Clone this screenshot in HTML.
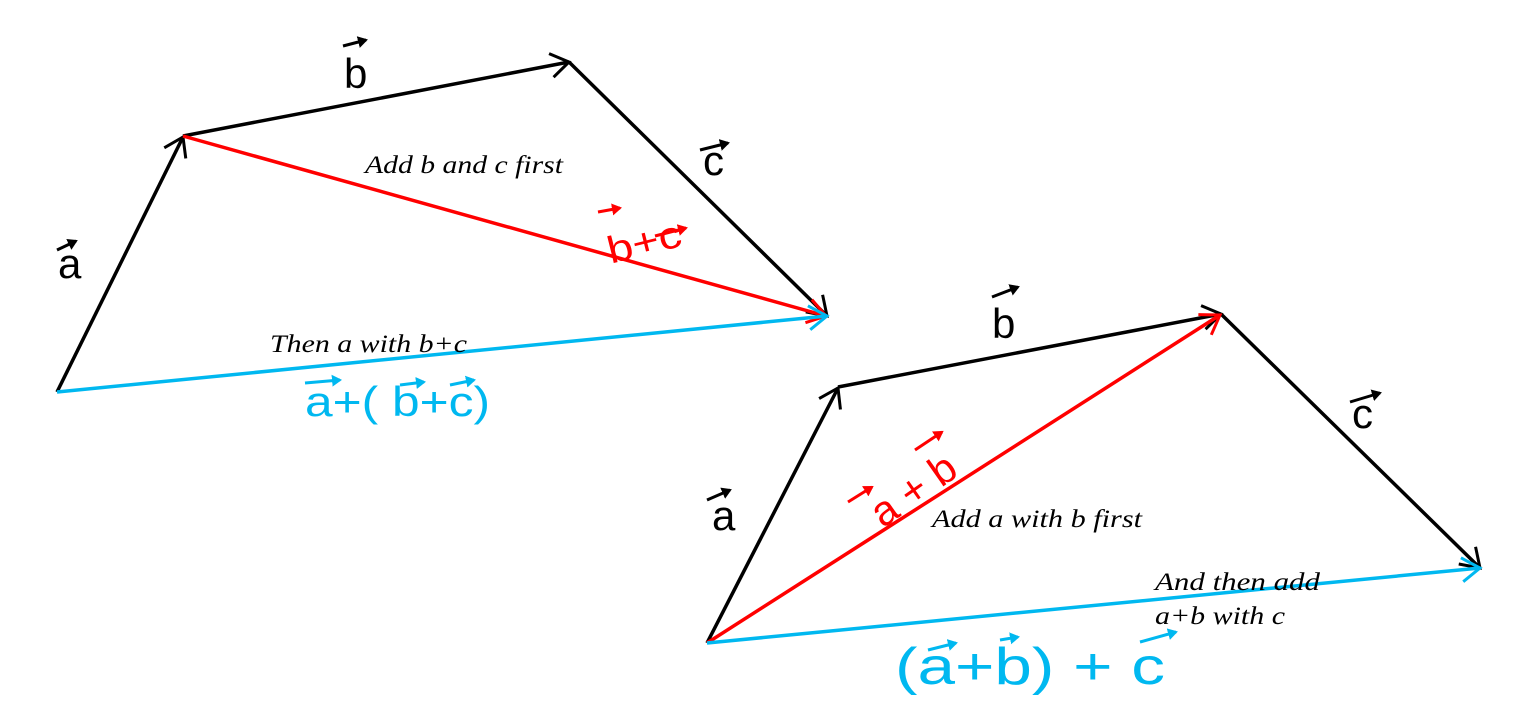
<!DOCTYPE html>
<html><head><style>html,body{margin:0;padding:0;background:#fff;width:1531px;height:710px;overflow:hidden}</style></head>
<body>
<svg width="1531" height="710" viewBox="0 0 1531 710" xmlns="http://www.w3.org/2000/svg">
<defs>
<marker id="mk" markerUnits="userSpaceOnUse" markerWidth="40" markerHeight="40" refX="20" refY="20" orient="auto"><path d="M2,8 L20,20 L2,32" fill="none" stroke="#000" stroke-width="3"/></marker>
<marker id="mr" markerUnits="userSpaceOnUse" markerWidth="40" markerHeight="40" refX="20" refY="20" orient="auto"><path d="M2,8 L20,20 L2,32" fill="none" stroke="#f00" stroke-width="3"/></marker>
<marker id="mb" markerUnits="userSpaceOnUse" markerWidth="40" markerHeight="40" refX="20" refY="20" orient="auto"><path d="M2,8 L20,20 L2,32" fill="none" stroke="#00b8f0" stroke-width="3"/></marker>
<marker id="sk" markerUnits="userSpaceOnUse" markerWidth="16" markerHeight="16" refX="8" refY="8" orient="auto"><path d="M0,2 L10,8 L0,14 Z" fill="#000"/></marker>
<marker id="sr" markerUnits="userSpaceOnUse" markerWidth="16" markerHeight="16" refX="8" refY="8" orient="auto"><path d="M0,2 L10,8 L0,14 Z" fill="#f00"/></marker>
<marker id="sb" markerUnits="userSpaceOnUse" markerWidth="16" markerHeight="16" refX="8" refY="8" orient="auto"><path d="M0,2 L10,8 L0,14 Z" fill="#00b8f0"/></marker>
</defs>
<g fill="none" stroke-width="3.5">
<line x1="57" y1="392" x2="183" y2="137" stroke="#000" marker-end="url(#mk)"/>
<line x1="183" y1="136" x2="569" y2="62" stroke="#000" marker-end="url(#mk)"/>
<line x1="569" y1="62" x2="827" y2="316" stroke="#000" marker-end="url(#mk)"/>
<line x1="183" y1="136" x2="826" y2="316" stroke="#f00" marker-end="url(#mr)"/>
<line x1="57" y1="392" x2="827" y2="316" stroke="#00b8f0" marker-end="url(#mb)"/>

<line x1="707" y1="643" x2="838" y2="388" stroke="#000" marker-end="url(#mk)"/>
<line x1="838" y1="387" x2="1221" y2="314" stroke="#000" marker-end="url(#mk)"/>
<line x1="1221" y1="314" x2="1480" y2="568" stroke="#000" marker-end="url(#mk)"/>
<line x1="707" y1="643" x2="1220" y2="315" stroke="#f00" marker-end="url(#mr)"/>
<line x1="707" y1="643" x2="1480" y2="568" stroke="#00b8f0" marker-end="url(#mb)"/>
</g>
<g font-family="Liberation Serif, serif" font-style="italic" font-size="25" fill="#000" lengthAdjust="spacingAndGlyphs">
<text x="365" y="173" textLength="198" lengthAdjust="spacingAndGlyphs">Add b and c first</text>
<text x="270" y="352" textLength="197" lengthAdjust="spacingAndGlyphs">Then a with b+c</text>
<text x="932" y="527" textLength="210" lengthAdjust="spacingAndGlyphs">Add a with b first</text>
<text x="1155" y="590" textLength="165" lengthAdjust="spacingAndGlyphs">And then add</text>
<text x="1155" y="624" textLength="130" lengthAdjust="spacingAndGlyphs">a+b with c</text>
</g>
<g font-family="Liberation Sans, sans-serif" font-size="42">
<text x="58" y="278" fill="#000">a</text>
<line x1="57" y1="250" x2="76" y2="241" stroke="#000" stroke-width="3" marker-end="url(#sk)"/>
<text x="344" y="88" fill="#000">b</text>
<line x1="343" y1="46" x2="366" y2="40" stroke="#000" stroke-width="3" marker-end="url(#sk)"/>
<text x="703" y="175" fill="#000">c</text>
<line x1="700" y1="150" x2="728" y2="143" stroke="#000" stroke-width="3" marker-end="url(#sk)"/>
<text x="712" y="530" fill="#000">a</text>
<line x1="707" y1="500" x2="730" y2="490" stroke="#000" stroke-width="3" marker-end="url(#sk)"/>
<text x="992" y="338" fill="#000">b</text>
<line x1="992" y1="297" x2="1018" y2="287" stroke="#000" stroke-width="3" marker-end="url(#sk)"/>
<text x="1352" y="428" fill="#000">c</text>
<line x1="1350" y1="402" x2="1380" y2="393" stroke="#000" stroke-width="3" marker-end="url(#sk)"/>

<text x="606" y="256" fill="#f00" font-size="38" textLength="75" lengthAdjust="spacingAndGlyphs" transform="rotate(-14 640 240)">b+c</text>
<line x1="598" y1="212" x2="620" y2="208" stroke="#f00" stroke-width="3" marker-end="url(#sr)"/>
<line x1="655" y1="236" x2="686" y2="228" stroke="#f00" stroke-width="3" marker-end="url(#sr)"/>
<text x="858" y="510" fill="#f00" font-size="42" transform="rotate(-35 900 480)">a + b</text>
<line x1="848" y1="502" x2="872" y2="487" stroke="#f00" stroke-width="3" marker-end="url(#sr)"/>
<line x1="915" y1="450" x2="942" y2="432" stroke="#f00" stroke-width="3" marker-end="url(#sr)"/>

<text x="305" y="416" fill="#00b8f0" font-size="42" textLength="185" lengthAdjust="spacingAndGlyphs">a+( b+c)</text>
<line x1="305" y1="383" x2="340" y2="380" stroke="#00b8f0" stroke-width="3" marker-end="url(#sb)"/>
<line x1="400" y1="385" x2="424" y2="382" stroke="#00b8f0" stroke-width="3" marker-end="url(#sb)"/>
<line x1="450" y1="385" x2="474" y2="380" stroke="#00b8f0" stroke-width="3" marker-end="url(#sb)"/>
<text x="895" y="684" fill="#00b8f0" font-size="52" textLength="270" lengthAdjust="spacingAndGlyphs">(a+b) + c</text>
<line x1="928" y1="650" x2="956" y2="643" stroke="#00b8f0" stroke-width="3" marker-end="url(#sb)"/>
<line x1="1000" y1="640" x2="1018" y2="637" stroke="#00b8f0" stroke-width="3" marker-end="url(#sb)"/>
<line x1="1140" y1="642" x2="1176" y2="632" stroke="#00b8f0" stroke-width="3" marker-end="url(#sb)"/>
</g>
</svg>
</body></html>
